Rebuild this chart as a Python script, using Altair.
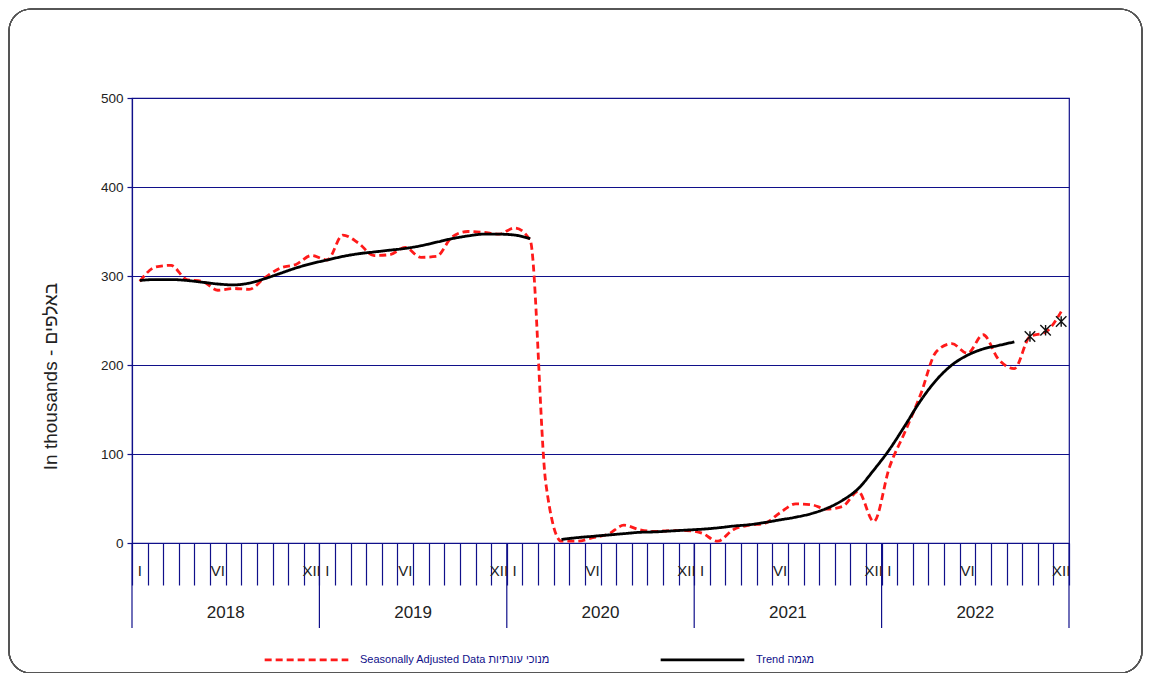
import altair as alt
import pandas as pd

years = ["2018", "2019", "2020", "2021", "2022"]
month_labels = ["I", "VI", "XII"]
month_label_pos = [1, 6, 12]

sa_values = [
    294, 310, 312, 296, 294, 284, 286, 285, 298, 309, 313, 323,
    318, 346, 337, 323, 324, 332, 321, 322, 344, 350, 349, 347,
    354, 340, 67, 2, 2, 6, 10, 20, 15, 13, 14, 14,
    11, 2, 15, 20, 22, 34, 44, 43, 38, 41, 58, 24,
    85, 125, 167, 215, 224, 213, 234, 206, 196, 232, 237, 260,
]
trend_values = [
    295, 296, 296, 295, 293, 291, 290, 292, 297, 303, 309, 314,
    318, 322, 325, 327, 329, 331, 334, 338, 342, 345, 347, 347,
    346, 342, None, 4, 6, 7.5, 9, 10.5, 12, 12.5, 13.5, 14.5,
    15.5, 17, 19, 20.5, 23, 26, 29, 33, 39, 48, 61, 82,
    105, 132, 160, 183, 200, 211, 218, 222, 226, None, None, None,
]
star_months = [57, 58, 59]
star_values = [232, 239, 249]

SA_NAME = "Seasonally Adjusted Data  מנוכי עונתיות"
TR_NAME = "Trend  מגמה"

NAVY = "#10108a"
TEXT = "#222222"
FONT = "Liberation Sans"

W, H = 937, 445

rows = []
for i, v in enumerate(sa_values):
    rows.append({"x": i + 0.5, "value": v, "series": SA_NAME, "seg": "sa"})
seg = 1
for i, v in enumerate(trend_values):
    if v is None:
        seg += 1
        continue
    rows.append({"x": i + 0.5, "value": v, "series": TR_NAME, "seg": f"t{seg}"})
lines_df = pd.DataFrame(rows)

stars_df = pd.DataFrame({"x": [m + 0.5 for m in star_months], "value": star_values})

mlab = []
for yi in range(len(years)):
    for lab, m in zip(month_labels, month_label_pos):
        mlab.append({"x": yi * 12 + m - 0.5, "label": lab})
mlab_df = pd.DataFrame(mlab)

ylab_df = pd.DataFrame({"x": [yi * 12 + 6 for yi in range(len(years))], "label": years})
yrule_df = pd.DataFrame({"x": [yi * 12 for yi in range(len(years) + 1)]})

xscale = alt.Scale(domain=[0, 60], nice=False, zero=False)
yscale = alt.Scale(domain=[0, 500], nice=False)

xaxis = alt.Axis(
    values=list(range(61)), labels=False, tickSize=42, tickColor=NAVY,
    tickWidth=1.2, domainColor=NAVY, domainWidth=1.2, grid=False, title=None)
yaxis = alt.Axis(
    values=[0, 100, 200, 300, 400, 500], tickSize=5, tickColor=NAVY, tickWidth=1.2,
    domainColor=NAVY, domainWidth=1.2, grid=True, gridColor=NAVY, gridWidth=1.2,
    gridOpacity=1, labelFontSize=13.5, labelColor=TEXT, labelPadding=4,
    labelFont=FONT, title="In thousands - באלפים", titleFontSize=19,
    titleFontWeight="normal", titleColor=TEXT, titleFont=FONT, titlePadding=40,
    titleY=278)


def X(field="x:Q"):
    return alt.X(field, scale=xscale, axis=xaxis)


def Y(field="value:Q"):
    return alt.Y(field, scale=yscale, axis=yaxis)


lines = alt.Chart(lines_df).mark_line(strokeWidth=2.8, interpolate="monotone").encode(
    x=X(), y=Y(),
    color=alt.Color("series:N", scale=alt.Scale(domain=[SA_NAME, TR_NAME], range=["#ff1a1a", "#000000"]),
                    legend=alt.Legend(title=None, orient="none", legendX=131, legendY=518,
                                      direction="horizontal", symbolType="stroke",
                                      symbolSize=7000, symbolStrokeWidth=2.8,
                                      labelFontSize=11, labelColor=NAVY,
                                      labelFont="Liberation Sans Narrow, Liberation Sans",
                                      labelOffset=10, columnPadding=102, labelLimit=400)),
    strokeDash=alt.StrokeDash("series:N", scale=alt.Scale(domain=[SA_NAME, TR_NAME], range=[[7, 4], [1, 0]]),
                              legend=None),
    detail="seg:N",
)

stars = alt.Chart(stars_df).mark_point(
    shape="M-1,-1L1,1M-1,1L1,-1M0,-1L0,1", size=110, filled=False,
    stroke="#111111", strokeWidth=1.4, opacity=1,
).encode(x=X(), y=Y())

year_rules = alt.Chart(yrule_df).mark_rule(color=NAVY, strokeWidth=1.2).encode(
    x=X(), y=alt.value(H), y2=alt.value(H + 85),
)

month_text = alt.Chart(mlab_df).mark_text(fontSize=15, color=TEXT, font=FONT, baseline="middle").encode(
    x=X(), y=alt.value(H + 28), text="label:N",
)

year_text = alt.Chart(ylab_df).mark_text(fontSize=17, color=TEXT, font=FONT, baseline="middle").encode(
    x=X(), y=alt.value(H + 70), text="label:N",
)

frame = alt.Chart(yrule_df).mark_rect(
    fill="transparent", stroke="#555555", strokeWidth=1.2, cornerRadius=22
).encode(
    x=alt.value(-123), x2=alt.value(1010), y=alt.value(-89), y2=alt.value(575),
)

chart = alt.layer(lines, frame, year_rules, stars, month_text, year_text).properties(
    width=W, height=H,
    background="white",
    autosize=alt.AutoSizeParams(type="none"),
    padding={"left": 124, "top": 90, "right": 75, "bottom": 130},
).configure_view(stroke=NAVY, strokeWidth=1.2)

chart.save("out.html", embed_options={"renderer": "svg", "actions": False})
